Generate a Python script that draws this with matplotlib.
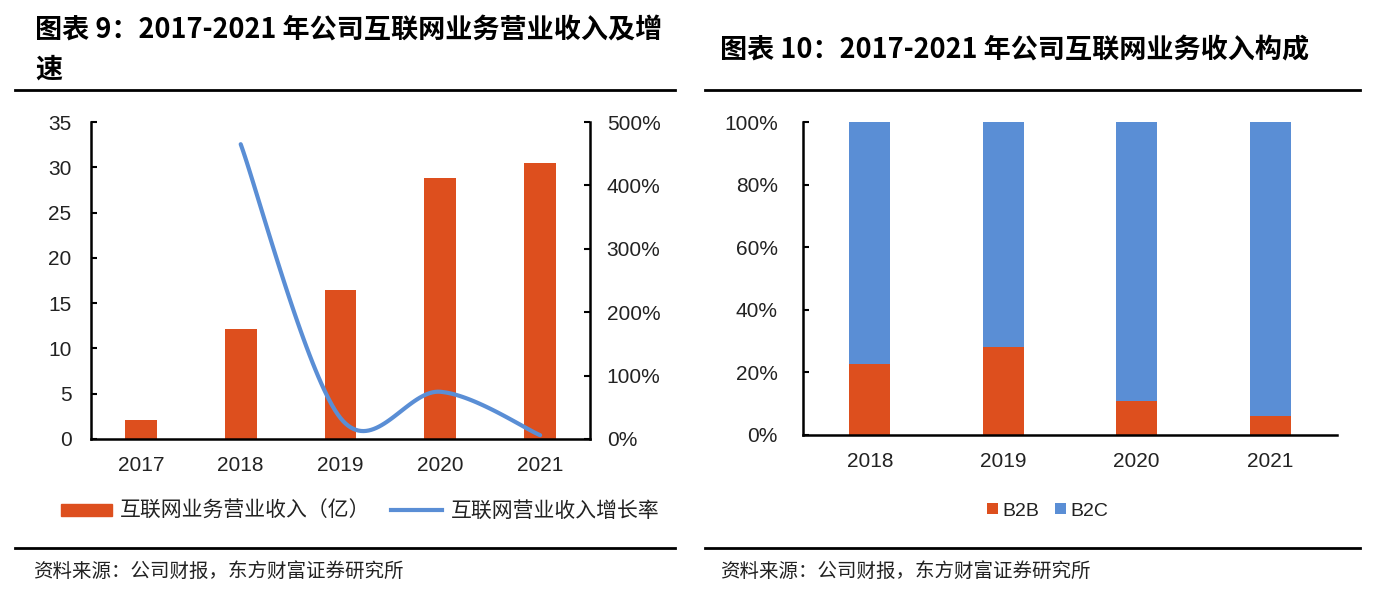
import numpy as np
import matplotlib.pyplot as plt
from matplotlib.lines import Line2D
from matplotlib.patches import Patch
from matplotlib.ticker import FuncFormatter, MultipleLocator

plt.rcParams['font.family'] = ['Noto Sans CJK SC', 'DejaVu Sans']
NUM_FONT = ['Liberation Sans Narrow', 'Liberation Sans', 'DejaVu Sans']

# data
years_left = ['2017', '2018', '2019', '2020', '2021']
revenue = [2.1, 12.1, 16.5, 28.8, 30.5]           # 互联网业务营业收入（亿）
growth_years = [1, 2, 3, 4]                       # index into years_left (2018-2021)
growth = [4.65, 0.33, 0.745, 0.06]                # 互联网营业收入增长率

years_right = ['2018', '2019', '2020', '2021']
b2b = [0.227, 0.282, 0.11, 0.061]
b2c = [1 - v for v in b2b]

ORANGE = '#DD4F1E'
BLUE = '#5A8ED5'
TXT = '#222222'


def smooth(xs, ys, n=40):
    # excel-style smoothed line: cubic bezier through every point
    xs = np.asarray(xs, float)
    ys = np.asarray(ys, float)
    px, py = [], []
    for i in range(len(xs) - 1):
        i0 = max(i - 1, 0)
        i3 = min(i + 2, len(xs) - 1)
        c1 = (xs[i] + (xs[i + 1] - xs[i0]) / 6, ys[i] + (ys[i + 1] - ys[i0]) / 6)
        c2 = (xs[i + 1] - (xs[i3] - xs[i]) / 6, ys[i + 1] - (ys[i3] - ys[i]) / 6)
        t = np.linspace(0, 1, n)
        a, b, c, d = (1 - t) ** 3, 3 * (1 - t) ** 2 * t, 3 * (1 - t) * t ** 2, t ** 3
        px.extend(a * xs[i] + b * c1[0] + c * c2[0] + d * xs[i + 1])
        py.extend(a * ys[i] + b * c1[1] + c * c2[1] + d * ys[i + 1])
    return np.array(px), np.array(py)


W, H = 1376, 594
fig = plt.figure(figsize=(W / 100, H / 100), dpi=100)


def rect(x0, y0, x1, y1):
    return [x0 / W, 1 - y1 / H, (x1 - x0) / W, (y1 - y0) / H]


def hline(x0, x1, y):
    fig.add_artist(Line2D([x0 / W, x1 / W], [1 - y / H, 1 - y / H], color='black', lw=2))


def style_ticks(ax):
    for lab in ax.get_xticklabels() + ax.get_yticklabels():
        lab.set_family(NUM_FONT)
        lab.set_fontsize(15)
        lab.set_color(TXT)


# ---------------- left chart ----------------
fig.text(35 / W, 1 - 30 / H, '图表 9：2017-2021 年公司互联网业务营业收入及增',
         fontsize=19.5, fontweight='bold', va='center', ha='left')
fig.text(35 / W, 1 - 70 / H, '速', fontsize=19.5, fontweight='bold', va='center', ha='left')
hline(15, 675, 90)

ax = fig.add_axes(rect(91, 122, 590, 439))
x = np.arange(len(years_left))
ax.bar(x, revenue, width=0.32, color=ORANGE, zorder=2)
ax.set_xlim(-0.5, 4.5)
ax.set_ylim(0, 35)
ax.yaxis.set_major_locator(MultipleLocator(5))
ax.set_xticks(x)
ax.set_xticklabels(years_left)
ax.tick_params(axis='x', length=0, pad=12)
ax.tick_params(axis='y', direction='in', length=4, width=1.5, pad=14)
for s in ['top', 'right']:
    ax.spines[s].set_visible(False)
for s in ['left', 'bottom']:
    ax.spines[s].set_linewidth(1.8)

ax2 = ax.twinx()
sx, sy = smooth(growth_years, growth)
ax2.plot(sx, sy, color=BLUE, lw=3, solid_capstyle='round', zorder=3)
ax2.set_ylim(0, 5)
ax2.yaxis.set_major_locator(MultipleLocator(1))
ax2.yaxis.set_major_formatter(FuncFormatter(lambda v, p: f'{v * 100:.0f}%'))
ax2.tick_params(axis='y', direction='in', length=4, width=1.5, pad=12)
for s in ['top', 'left', 'bottom']:
    ax2.spines[s].set_visible(False)
ax2.spines['right'].set_linewidth(1.8)
style_ticks(ax)
style_ticks(ax2)

handles = [Patch(color=ORANGE), Line2D([], [], color=BLUE, lw=3)]
fig.legend(handles, ['互联网业务营业收入（亿）', '互联网营业收入增长率'],
           loc='center', bbox_to_anchor=(360 / W, 1 - 511 / H), ncol=2, frameon=False,
           fontsize=15, handlelength=2.45, handleheight=0.5, handletextpad=0.4,
           columnspacing=1.0, labelcolor=TXT)

hline(15, 675, 548)
fig.text(33 / W, 1 - 571 / H, '资料来源：公司财报，东方财富证券研究所',
         fontsize=14, va='center', ha='left', color=TXT)

# ---------------- right chart ----------------
fig.text(720 / W, 1 - 50 / H, '图表 10：2017-2021 年公司互联网业务收入构成',
         fontsize=19.5, fontweight='bold', va='center', ha='left')
hline(705, 1360, 90)

bx = fig.add_axes(rect(803, 122, 1337, 435))
xr = np.arange(len(years_right))
bx.bar(xr, b2b, width=0.31, color=ORANGE, label='B2B', zorder=2)
bx.bar(xr, b2c, width=0.31, bottom=b2b, color=BLUE, label='B2C', zorder=2)
bx.set_xlim(-0.5, 3.5)
bx.set_ylim(0, 1)
bx.yaxis.set_major_locator(MultipleLocator(0.2))
bx.yaxis.set_major_formatter(FuncFormatter(lambda v, p: f'{v * 100:.0f}%'))
bx.set_xticks(xr)
bx.set_xticklabels(years_right)
bx.tick_params(axis='x', length=0, pad=12)
bx.tick_params(axis='y', direction='in', length=4, width=1.5, pad=18)
for s in ['top', 'right']:
    bx.spines[s].set_visible(False)
for s in ['left', 'bottom']:
    bx.spines[s].set_linewidth(1.8)
style_ticks(bx)

leg = fig.legend(*bx.get_legend_handles_labels(), loc='center',
                 bbox_to_anchor=(1048 / W, 1 - 511 / H), ncol=2, frameon=False,
                 handlelength=0.55, handleheight=0.55, handletextpad=0.25,
                 columnspacing=0.8, labelcolor=TXT,
                 prop={'family': NUM_FONT, 'size': 14})

hline(705, 1360, 548)
fig.text(720 / W, 1 - 571 / H, '资料来源：公司财报，东方财富证券研究所',
         fontsize=14, va='center', ha='left', color=TXT)

fig.savefig('out.png', dpi=100)
